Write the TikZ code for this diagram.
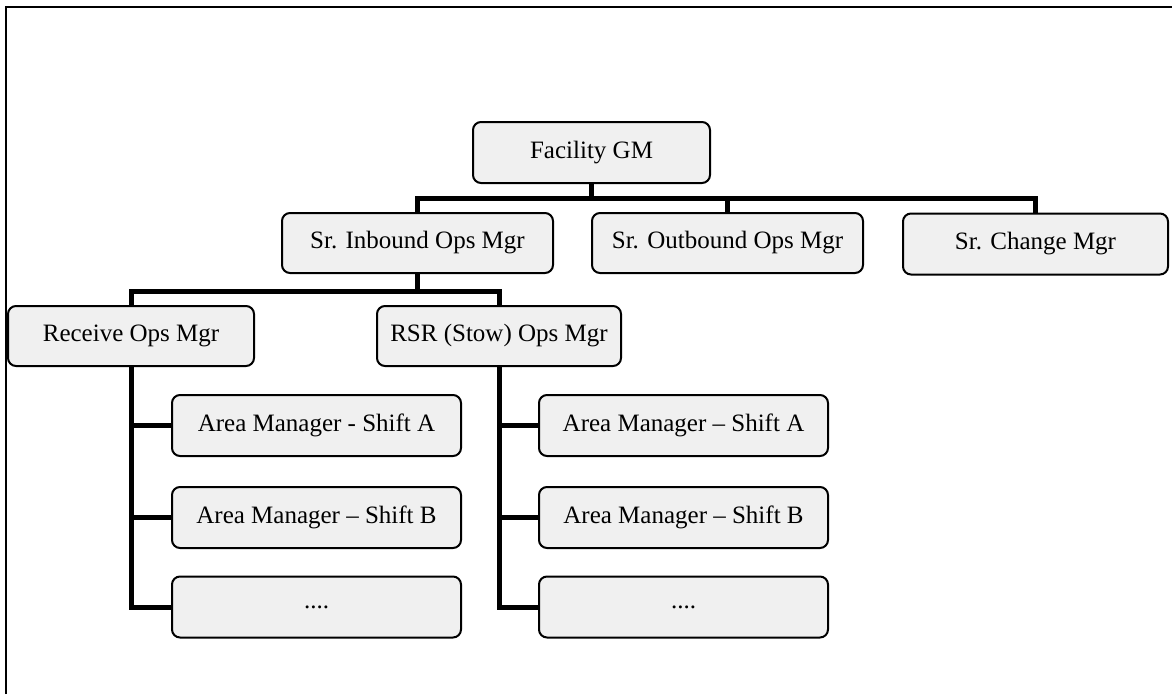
\documentclass[tikz,border=0pt]{standalone}
\usepackage{fontspec}
\setmainfont{Liberation Serif}
\begin{document}
\begin{tikzpicture}[x=1pt,y=-1pt,
  box/.style={draw=black, line width=2pt, rounded corners=8pt, fill=black!6,
    inner sep=0pt, font=\fontsize{25}{30}\selectfont},
  conn/.style={line width=5pt, line join=miter, line cap=butt},
  frame/.style={line width=2.2pt}]
\useasboundingbox (0,0) rectangle (1172,694);
\coordinate (f0) at (6,694);
\coordinate (f1) at (6,7);
\coordinate (f2) at (1172,7);
\draw[frame] (f0) -- (f1) -- (f2);
% nodes
\node[box, minimum width=237pt, minimum height=61pt] (gm) at (591.5,152.5) {Facility GM};
\node[box, minimum width=271pt, minimum height=60pt] (inb) at (417.5,243) {Sr. Inbound Ops Mgr};
\node[box, minimum width=271pt, minimum height=60pt] (outb) at (727.5,243) {Sr. Outbound Ops Mgr};
\node[box, minimum width=265pt, minimum height=61pt] (chg) at (1035.5,244) {Sr. Change Mgr};
\node[box, minimum width=246pt, minimum height=60pt] (rec) at (131,336) {Receive Ops Mgr};
\node[box, minimum width=244pt, minimum height=60pt] (rsr) at (499,336) {RSR (Stow) Ops Mgr};
\node[box, minimum width=289pt, minimum height=61pt] (la) at (316.5,425.5) {Area Manager - Shift A};
\node[box, minimum width=289pt, minimum height=61pt] (lb) at (316.5,517.5) {Area Manager -- Shift B};
\node[box, minimum width=289pt, minimum height=61pt] (lc) at (316.5,607) {....};
\node[box, minimum width=289pt, minimum height=61pt] (ra) at (683.5,425.5) {Area Manager -- Shift A};
\node[box, minimum width=289pt, minimum height=61pt] (rb) at (683.5,517.5) {Area Manager -- Shift B};
\node[box, minimum width=289pt, minimum height=61pt] (rc) at (683.5,607) {....};
% buses
\coordinate (b1) at (0,198);
\coordinate (b2) at (0,291);
\draw[conn] (gm.south) -- (gm.south |- b1);
\draw[conn] (inb.north) -- (inb.north |- b1) -- (chg.north |- b1) -- (chg.north);
\draw[conn] (outb.north) -- (outb.north |- b1);
\draw[conn] (inb.south) -- (inb.south |- b2);
\draw[conn] (rec.north) -- (rec.north |- b2) -- (rsr.north |- b2) -- (rsr.north);
\draw[conn] (rec.south) -- (rec.south |- lc.west) -- (lc.west);
\draw[conn] (rec.south |- la.west) -- (la.west);
\draw[conn] (rec.south |- lb.west) -- (lb.west);
\draw[conn] (rsr.south) -- (rsr.south |- rc.west) -- (rc.west);
\draw[conn] (rsr.south |- ra.west) -- (ra.west);
\draw[conn] (rsr.south |- rb.west) -- (rb.west);
\end{tikzpicture}
\end{document}
